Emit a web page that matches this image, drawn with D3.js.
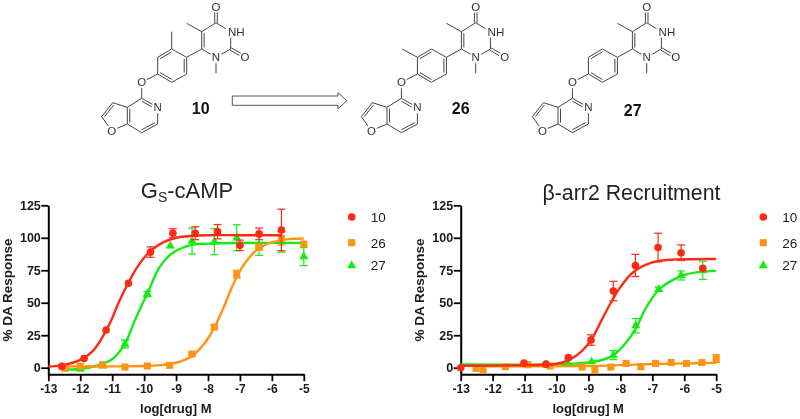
<!DOCTYPE html>
<html>
<head>
<meta charset="utf-8">
<script src="https://cdn.jsdelivr.net/npm/d3@7"></script>
<style>
  html, body { margin: 0; padding: 0; background: #fff; overflow: hidden; }
  svg { display: block; font-family: "Liberation Sans", Arial, sans-serif; filter: blur(0.3px); }
</style>
</head>
<body>
<div id="svgContainer"></div>
<script>
const w = 800;
const h = 419;

const xTicks = [-13, -12, -11, -10, -9, -8, -7, -6, -5];
const yTicks = [0, 25, 50, 75, 100, 125];
const compounds = ["10", "26", "27"];
const colors = { "10": "#ff2a14", "26": "#ff9312", "27": "#14ec14" };

// G-s cAMP panel: [log dose, response, sem]
const cAMP10 = [[-12.58, 1, 0], [-11.88, 7, 0], [-11.19, 29, 0], [-10.49, 65, 0], [-9.8, 89, 4], [-9.1, 103.5, 3.5],
    [-8.4, 103.5, 5], [-7.7, 104.7, 5.5], [-7, 94.2, 4], [-6.4, 103, 4.5], [-5.7, 106, 16]];
const cAMP26 = [[-12.48, -0.5, 0], [-12, 1, 0], [-11.3, 2.3, 0], [-10.6, 0.5, 0], [-9.9, 1.3, 0], [-9.2, 1.8, 0],
    [-8.5, 10.5, 1], [-7.8, 31.3, 1.5], [-7.1, 72, 3], [-6.4, 92.7, 1.5], [-5.7, 99.5, 5], [-5, 95.2, 0]];
const cAMP27 = [[-12, -1, 0], [-11.3, 1.5, 0], [-10.6, 18.2, 3], [-9.9, 56.7, 2], [-9.18, 93.7, 0], [-8.5, 97.5, 10],
    [-7.8, 97, 10], [-7.1, 100, 10], [-6.4, 94.5, 8], [-5.7, 97, 8], [-5, 85.5, 7]];

// fitted curves: [log dose, response]
const cAMPCurve10 = [[-13, 0.8], [-12.5, 2.2], [-12, 6], [-11.6, 13], [-11.2, 28], [-11, 38], [-10.8, 50], [-10.5, 65],
    [-10.2, 78], [-9.8, 90], [-9.4, 96.5], [-9, 100], [-8.5, 101.5], [-8, 102], [-7, 102], [-5.7, 102]];
const cAMPCurve26 = [[-12.5, 1], [-11, 1], [-10, 1.3], [-9.5, 2], [-9, 3.8], [-8.5, 9], [-8.1, 19], [-7.8, 31], [-7.5, 47],
    [-7.1, 70], [-6.8, 82], [-6.4, 92], [-6, 96.5], [-5.5, 99], [-5, 99.5]];
const cAMPCurve27 = [[-12.5, -1.5], [-12, -1], [-11.5, 1.5], [-11, 6.5], [-10.6, 18.5], [-10.3, 36], [-10, 52], [-9.9, 57],
    [-9.5, 78], [-9.1, 88.5], [-8.5, 94.5], [-8, 95.5], [-7, 96], [-5, 96]];

// beta-arrestin panel
const arr10 = [[-13, 0, 0], [-11.02, 3.5, 0], [-10.33, 2.7, 0], [-9.63, 7.7, 0], [-8.92, 21.3, 4], [-8.22, 59, 7.5],
    [-7.53, 78.7, 8.5], [-6.82, 92.5, 11], [-6.1, 88.5, 6], [-5.42, 76.4, 0]];
const arr26 = [[-12.52, -0.5, 0], [-12.3, -1.8, 0], [-11.6, 0.8, 0], [-10.9, 2.3, 0], [-10.2, 1.3, 0], [-9.2, 0.5, 0],
    [-8.8, -1.8, 0], [-8.3, 0.5, 0], [-7.82, 3.3, 0], [-7.36, 0.8, 0], [-6.9, 3.3, 0], [-6.41, 4, 0], [-5.93, 3.3, 0],
    [-5.45, 4, 0], [-5, 7, 3]];
const arr27 = [[-10.3, 2, 0], [-9.63, 2.8, 0], [-8.9, 4.6, 0], [-8.22, 9.7, 3.5], [-7.52, 32.3, 5.5], [-6.8, 60.3, 1.5],
    [-6.1, 71, 3.5], [-5.42, 75, 7]];

const arrCurve10 = [[-13, 1.5], [-11, 2], [-10, 3], [-9.6, 6], [-9.2, 13], [-8.9, 22], [-8.6, 36], [-8.3, 50], [-8, 62],
    [-7.6, 73.5], [-7, 81], [-6.5, 83], [-5, 83.7]];
const arrCurve26 = [[-12.5, 1], [-9, 1.3], [-8, 2], [-7, 2.8], [-6, 3.3], [-5, 3.7]];
const arrCurve27 = [[-13, 2.5], [-10, 2.5], [-9.5, 3], [-9, 4], [-8.5, 6.5], [-8.2, 10], [-7.8, 20], [-7.5, 31], [-7.2, 46],
    [-6.8, 60], [-6.4, 67], [-6, 71.5], [-5.5, 73.8], [-5, 74.5]];

const svg = d3.select("#svgContainer").append("svg")
    .attr("width", w)
    .attr("height", h);

const y = d3.scaleLinear().domain([-5, 125]).range([374.2, 205.3]);

function drawPanel(opts) {
    const x = d3.scaleLinear().domain([-13, -5]).range([opts.left, opts.left + 255.5]);
    const g = svg.append("g");

    // x axis
    const xAxis = g.append("g")
        .attr("transform", "translate(0," + y(-5) + ")")
        .call(d3.axisBottom(x).tickValues(xTicks).tickFormat(d3.format("d")).tickSize(7).tickSizeOuter(0));
    xAxis.selectAll("text").attr("font-size", 12).attr("font-weight", "bold").attr("y", 19.3).attr("dy", 0).text((d) => d);

    // y axis
    const yAxis = g.append("g")
        .attr("transform", "translate(" + opts.left + ",0)")
        .call(d3.axisLeft(y).tickValues(yTicks).tickSize(7).tickPadding(0.5).tickSizeOuter(0));
    yAxis.selectAll("text").attr("font-size", 12.5).attr("font-weight", "bold");

    g.selectAll(".domain").attr("stroke", "#000").attr("stroke-width", 2);
    g.selectAll(".tick line").attr("stroke", "#000").attr("stroke-width", 1.8);
    g.selectAll(".tick text").attr("fill", "#1a1a1a").attr("font-family", "Liberation Sans");

    const line = d3.line()
        .x((d) => x(d[0]))
        .y((d) => y(d[1]))
        .curve(d3.curveCatmullRom.alpha(0.5));

    // green first, then orange, red on top
    ["27", "26", "10"].forEach((c) => {
        const color = colors[c];
        const pts = opts.points[c];

        g.append("path")
            .attr("d", line(opts.curves[c]))
            .attr("fill", "none")
            .attr("stroke", color)
            .attr("stroke-width", 2.4);

        const bars = g.append("g").selectAll("g")
            .data(pts.filter((d) => d[2] > 0))
            .enter()
            .append("g")
            .attr("stroke", color)
            .attr("stroke-width", 1.2);
        bars.append("line")
            .attr("x1", (d) => x(d[0])).attr("x2", (d) => x(d[0]))
            .attr("y1", (d) => y(d[1] - d[2])).attr("y2", (d) => y(d[1] + d[2]));
        [-1, 1].forEach((s) => {
            bars.append("line")
                .attr("x1", (d) => x(d[0]) - 4).attr("x2", (d) => x(d[0]) + 4)
                .attr("y1", (d) => y(d[1] + s * d[2])).attr("y2", (d) => y(d[1] + s * d[2]));
        });

        g.append("g").selectAll("path")
            .data(pts)
            .enter()
            .append("path")
            .attr("d", symbols[c])
            .attr("transform", (d) => "translate(" + x(d[0]) + "," + y(d[1]) + ")")
            .attr("fill", color);
    });

    // legend
    compounds.forEach((c, i) => {
        const ly = [217, 242.7, 265.5][i];
        g.append("path")
            .attr("d", symbols[c])
            .attr("transform", "translate(" + opts.legendX + "," + ly + ")")
            .attr("fill", colors[c]);
        g.append("text")
            .attr("x", opts.legendX + 19)
            .attr("y", ly + 4.8)
            .attr("font-size", 13.5)
            .attr("fill", "#1a1a1a")
            .text(c);
    });

    g.append("text")
        .attr("x", opts.titleX)
        .attr("y", opts.titleY)
        .attr("text-anchor", "middle")
        .attr("font-size", opts.titleSize)
        .attr("fill", "#222")
        .html(opts.title);

    g.append("text")
        .attr("x", opts.left + 127.5)
        .attr("y", 413)
        .attr("text-anchor", "middle")
        .attr("font-size", 13)
        .attr("font-weight", "bold")
        .attr("fill", "#1a1a1a")
        .text("log[drug] M");

    g.append("text")
        .attr("transform", "translate(" + (opts.left - 36.5) + ",290) rotate(-90)")
        .attr("text-anchor", "middle")
        .attr("font-size", 13.5)
        .attr("font-weight", "bold")
        .attr("fill", "#1a1a1a")
        .text("% DA Response");
}

const symbols = {
    "10": d3.symbol().type(d3.symbolCircle).size(46)(),
    "26": d3.symbol().type(d3.symbolSquare).size(50)(),
    "27": d3.symbol().type(d3.symbolTriangle).size(36)()
};

drawPanel({
    left: 48.3,
    legendX: 351.7,
    titleX: 187,
    titleY: 198,
    titleSize: 22,
    title: 'G<tspan dy="4" font-size="14">S</tspan><tspan dy="-4">-cAMP</tspan>',
    points: { "10": cAMP10, "26": cAMP26, "27": cAMP27 },
    curves: { "10": cAMPCurve10, "26": cAMPCurve26, "27": cAMPCurve27 }
});
drawPanel({
    left: 460.7,
    legendX: 763.3,
    titleX: 631.5,
    titleY: 200,
    titleSize: 21.3,
    title: "β-arr2 Recruitment",
    points: { "10": arr10, "26": arr26, "27": arr27 },
    curves: { "10": arrCurve10, "26": arrCurve26, "27": arrCurve27 }
});

// chemical structures, atom positions relative to the top carbonyl O
const atoms = {
    O4: [0, 6.7], C4: [0, 22.7], N3: [14.7, 31.7], C2: [14.7, 49], O2: [29, 57.3], N1: [0, 57.3], Me1: [0, 73.3],
    C6: [-14.3, 49], C5: [-14.3, 31.7], Me5: [-29.3, 23.3],
    A1: [-29.3, 57.3], A2: [-44.3, 49], A3: [-58.3, 57.3], A4: [-58.3, 74], A5: [-44.3, 82.3], A6: [-29.3, 74],
    Oe: [-74.3, 82.3], P4: [-74.3, 98.3], PN: [-58.3, 107.3], P6: [-58.3, 124], P7: [-74.3, 132.7],
    P7a: [-88.7, 124], P3a: [-88.7, 107.3], F3: [-103.3, 102.7], F2: [-114.3, 116.7], FO: [-104.3, 130.7],
    MeA2: [-44.3, 31.7], MeA3: [-73.6, 49]
};
const singleBonds = [["C4", "N3"], ["N3", "C2"], ["C2", "N1"], ["N1", "C6"], ["N1", "Me1"], ["C5", "C4"], ["C5", "Me5"], ["C6", "A1"],
    ["A1", "A2"], ["A3", "A4"], ["A5", "A6"], ["A4", "Oe"], ["Oe", "P4"], ["P4", "P3a"], ["PN", "P6"], ["P7", "P7a"],
    ["P3a", "F3"], ["F2", "FO"], ["FO", "P7a"]];
// second line of a double bond is pulled toward the ring centre given
const doubleBonds = [["C5", "C6", [0, 40]], ["A2", "A3", [-44, 65.7]], ["A4", "A5", [-44, 65.7]], ["A6", "A1", [-44, 65.7]],
    ["P4", "PN", [-74, 115.5]], ["P6", "P7", [-74, 115.5]], ["P3a", "P7a", [-74, 115.5]], ["F3", "F2", [-97, 116]]];
const carbonyls = [["C4", "O4"], ["C2", "O2"]];

const molecules = [
    { name: "10", x: 216, extra: ["A2", "MeA2"], lx: 200.7, ly: 113.5 },
    { name: "26", x: 475.7, extra: ["A3", "MeA3"], lx: 460.7, ly: 113.5 },
    { name: "27", x: 646.7, extra: null, lx: 632.7, ly: 116 }
];

function drawMolecule(m) {
    const g = svg.append("g")
        .attr("transform", "translate(" + m.x + ",0)");

    const bond = (p, q) => g.append("line")
        .attr("stroke", "#444")
        .attr("stroke-width", 1)
        .attr("x1", p[0]).attr("y1", p[1]).attr("x2", q[0]).attr("y2", q[1]);

    singleBonds.concat(m.extra ? [m.extra] : []).forEach((b) => bond(atoms[b[0]], atoms[b[1]]));

    doubleBonds.forEach((b) => {
        const p = atoms[b[0]], q = atoms[b[1]], c = b[2];
        bond(p, q);
        const t = 0.17;
        const inner = (a) => [a[0] + (c[0] - a[0]) * t, a[1] + (c[1] - a[1]) * t];
        bond(inner(p), inner(q));
    });

    carbonyls.forEach((b) => {
        const p = atoms[b[0]], q = atoms[b[1]];
        const dx = q[0] - p[0], dy = q[1] - p[1];
        const len = Math.sqrt(dx * dx + dy * dy);
        const ox = -dy / len * 1.3, oy = dx / len * 1.3;
        bond([p[0] + ox, p[1] + oy], [q[0] + ox, q[1] + oy]);
        bond([p[0] - ox, p[1] - oy], [q[0] - ox, q[1] - oy]);
    });

    // white disc under each atom label so the bonds stop short of it
    const label = (atom, txt, dx) => {
        g.append("circle")
            .attr("cx", atoms[atom][0])
            .attr("cy", atoms[atom][1])
            .attr("r", 6)
            .attr("fill", "#fff");
        g.append("text")
            .attr("x", atoms[atom][0] + (dx || 0))
            .attr("y", atoms[atom][1] + 4.1)
            .attr("text-anchor", "middle")
            .attr("font-size", 11.5)
            .attr("fill", "#333")
            .text(txt);
    };

    label("O4", "O");
    label("O2", "O");
    label("N3", "NH", 5.5);
    label("N1", "N");
    label("Oe", "O");
    label("PN", "N");
    label("FO", "O");

    svg.append("text")
        .attr("x", m.lx)
        .attr("y", m.ly)
        .attr("text-anchor", "middle")
        .attr("font-size", 16)
        .attr("font-weight", "bold")
        .attr("fill", "#111")
        .text(m.name);
}
molecules.forEach(drawMolecule);

// reaction arrow
svg.append("path")
    .attr("d", d3.line()([[232.3, 96], [338, 96], [338, 92.7], [347, 100.7], [338, 108.7], [338, 105.3], [232.3, 105.3]]) + "Z")
    .attr("fill", "#fff")
    .attr("stroke", "#555")
    .attr("stroke-width", 1);
</script>
</body>
</html>
